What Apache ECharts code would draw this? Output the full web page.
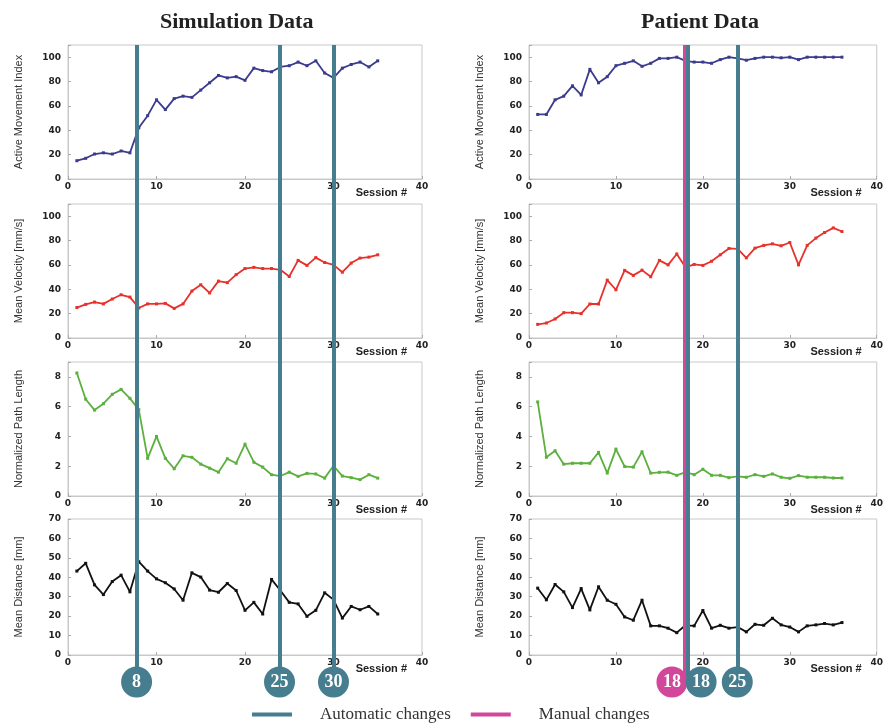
<!DOCTYPE html>
<html>
<head>
<meta charset="utf-8">
<script src="https://cdn.jsdelivr.net/npm/echarts@6/dist/echarts.min.js"></script>
<style>
  html, body { margin: 0; padding: 0; background: #fff; }
  #main { width: 886px; height: 724px; }
</style>
</head>
<body>
<div id="main"></div>
<script>
// 会话数据 (Session 1..n)
var amiSim = [15, 17, 20.5, 21.5, 20.5, 23, 21.5, 42, 52, 65, 57, 66, 68, 67, 73, 79, 85, 83, 84, 81,
  91, 89, 88, 92, 93, 96, 93, 97, 87, 83, 91, 94, 96, 92, 97];
var amiPat = [53, 53, 65, 68, 76.5, 69, 90, 79, 84, 93, 95, 97, 92.5, 95, 99, 99, 100, 97, 96, 96,
  95, 98, 100, 99, 97.5, 99, 100, 100, 99.5, 100, 98, 100, 100, 100, 100, 100];
var velSim = [25, 27.6, 29.5, 28, 32, 35.5, 33.6, 24.6, 28, 28, 28.4, 24.3, 28, 38.5, 43.7, 37, 46.7, 45.4, 52, 57,
  58, 57, 57, 56, 50.5, 63.7, 59.6, 66, 62, 60, 54, 61.5, 65.6, 66.4, 68.3];
var velPat = [11.2, 12.3, 15.6, 20.8, 20.8, 20, 27.9, 27.9, 47.5, 39.6, 55.5, 51.4, 55.7, 50.3, 63.7, 60, 69, 58, 60.4, 59.6,
  63, 68.3, 73.5, 73.2, 65.8, 73.8, 76, 77.3, 75.7, 78.4, 60, 76, 82, 86.6, 90.4, 87.4];
var pathSim = [8.26, 6.5, 5.77, 6.2, 6.83, 7.16, 6.56, 5.8, 2.53, 4.0, 2.53, 1.83, 2.7, 2.6, 2.14, 1.87, 1.6, 2.5, 2.2, 3.48,
  2.27, 1.94, 1.43, 1.34, 1.6, 1.32, 1.52, 1.48, 1.2, 2.03, 1.34, 1.23, 1.1, 1.43, 1.2];
var pathPat = [6.32, 2.6, 3.04, 2.14, 2.2, 2.2, 2.2, 2.93, 1.54, 3.15, 1.98, 1.94, 2.97, 1.54, 1.59, 1.6, 1.39, 1.6, 1.43, 1.8,
  1.39, 1.39, 1.23, 1.32, 1.26, 1.43, 1.32, 1.48, 1.26, 1.19, 1.37, 1.26, 1.26, 1.26, 1.21, 1.21];
var distSim = [43.2, 47.2, 36.1, 31.1, 37.8, 41.1, 32.5, 48, 43.2, 39.2, 37.2, 34, 28.2, 42.3, 40.1, 33.4, 32.3, 36.8, 33.2, 23,
  27.1, 21.1, 38.9, 33.2, 27.1, 26.3, 19.9, 23, 32, 28.5, 19, 25, 23.3, 25, 21.1];
var distPat = [34.4, 28.4, 36.3, 32.5, 24.4, 34.2, 23.2, 35.1, 28.2, 26.1, 19.6, 17.9, 28.2, 15, 15, 13.8, 11.5, 15.3, 15, 22.9,
  13.8, 15.3, 13.8, 14.4, 11.9, 15.8, 15.3, 18.9, 15.5, 14.4, 11.9, 15, 15.5, 16.2, 15.5, 16.7];

// 参数变化 (位置 / 标签)
var autoLeftPos = [7.75, 23.9, 30];
var autoLeftLabels = ['8', '25', '30'];
var manualRightPos = [17.6];
var autoRightPos = [18.0, 23.6];
var circleRightPos = [16.2, 19.5, 23.6];
var circleRightLabels = ['18', '18', '25'];

var yNames = ['Active Movement Index', 'Mean Velocity [mm/s]', 'Normalized Path Length', 'Mean Distance [mm]'];
var yMax = [110, 110, 9, 70];
var yInterval = [20, 20, 2, 10];
var lineColors = ['#3b3b8e', '#e8312b', '#5cb03e', '#111111'];
var seriesData = [[amiSim, amiPat], [velSim, velPat], [pathSim, pathPat], [distSim, distPat]];

var TEAL = '#477e8f';
var MAGENTA = '#d2479a';

var cols = [{ left: 68, width: 354 }, { left: 529, width: 353 }];
var rows = [{ top: 45, height: 134 }, { top: 204, height: 134 }, { top: 362, height: 134 }, { top: 519, height: 136 }];

var grids = [], xAxes = [], yAxes = [], series = [];

function toPoints(arr) {
  var res = [];
  for (var i = 0; i < arr.length; i++) {
    res.push([i + 1, arr[i]]);
  }
  return res;
}

var idx = 0;
for (var r = 0; r < 4; r++) {
  for (var c = 0; c < 2; c++) {
    grids.push({
      left: cols[c].left, width: cols[c].width, top: rows[r].top, height: rows[r].height,
      show: true, borderColor: '#c8c8c8', borderWidth: 1, backgroundColor: '#fff'
    });
    xAxes.push({
      type: 'value', gridIndex: idx, min: 0, max: 40, interval: 10,
      name: 'Session #', nameLocation: 'end', nameGap: -15,
      nameTextStyle: {
        align: 'right', verticalAlign: 'top', padding: [8, 0, 0, 0],
        fontFamily: 'Liberation Sans', fontWeight: 'bold', fontSize: 11, color: '#222'
      },
      axisLine: { show: true, lineStyle: { color: '#c8c8c8' } },
      axisTick: { show: true, inside: true, length: 3, lineStyle: { color: '#aaa' } },
      axisLabel: { margin: 3, fontFamily: 'DejaVu Sans', fontWeight: 'bold', fontSize: 9, color: '#222' },
      splitLine: { show: false }
    });
    (function (iv) {
      yAxes.push({
        type: 'value', gridIndex: idx, min: 0, max: yMax[r], interval: iv,
        name: yNames[r], nameLocation: 'middle', nameGap: 44,
        nameTextStyle: { fontFamily: 'Liberation Sans', fontSize: 11, color: '#333' },
        axisLine: { show: true, lineStyle: { color: '#c8c8c8' } },
        axisTick: { show: true, inside: true, length: 3, lineStyle: { color: '#aaa' } },
        axisLabel: {
          margin: 7, fontFamily: 'DejaVu Sans', fontWeight: 'bold', fontSize: 9, color: '#222',
          formatter: function (v) { return v % iv === 0 ? String(v) : ''; }
        },
        splitLine: { show: false }
      });
    })(yInterval[r]);
    series.push({
      type: 'line', xAxisIndex: idx, yAxisIndex: idx,
      data: toPoints(seriesData[r][c]),
      symbol: 'rect', symbolSize: 3, showSymbol: true,
      lineStyle: { color: lineColors[r], width: 1.8 },
      itemStyle: { color: lineColors[r] },
      z: 2
    });
    idx++;
  }
}

// 覆盖层: 竖线与圆圈
for (var c2 = 0; c2 < 2; c2++) {
  grids.push({ left: cols[c2].left, width: cols[c2].width, top: 45, height: 637 });
  xAxes.push({ type: 'value', gridIndex: 8 + c2, min: 0, max: 40, show: false });
  yAxes.push({ type: 'value', gridIndex: 8 + c2, min: 0, max: 1, show: false });
}

function vLines(name, color, positions, axisIdx) {
  return {
    name: name, type: 'line', xAxisIndex: axisIdx, yAxisIndex: axisIdx, data: [],
    color: color, z: 5,
    markLine: {
      silent: true, symbol: 'none', label: { show: false },
      lineStyle: { color: color, width: 4, type: 'solid', opacity: 1 },
      data: positions.map(function (p) { return { xAxis: p }; })
    }
  };
}

series.push(vLines('Automatic changes', TEAL, autoLeftPos, 8));
series.push(vLines('Manual changes', MAGENTA, manualRightPos, 9));
series.push(vLines('Automatic changes', TEAL, autoRightPos, 9));

var circleLabel = {
  show: true, position: 'inside', formatter: '{b}',
  fontFamily: 'Liberation Serif', fontWeight: 'bold', fontSize: 18, color: '#fff'
};
series.push({
  type: 'scatter', xAxisIndex: 8, yAxisIndex: 8, symbolSize: 31, clip: false, z: 6,
  itemStyle: { color: TEAL, opacity: 1 }, label: circleLabel,
  data: autoLeftPos.map(function (p, i) { return { name: autoLeftLabels[i], value: [p, 0] }; })
});
series.push({
  type: 'scatter', xAxisIndex: 9, yAxisIndex: 9, symbolSize: 31, clip: false, z: 6,
  label: circleLabel,
  data: circleRightPos.map(function (p, i) {
    return { name: circleRightLabels[i], value: [p, 0], itemStyle: { color: i === 0 ? MAGENTA : TEAL, opacity: 1 } };
  })
});

var chart = echarts.init(document.getElementById('main'));
chart.setOption({
  backgroundColor: '#fff',
  animation: false,
  title: [
    { text: 'Simulation Data', left: 155, top: 6,
      textStyle: { fontFamily: 'Liberation Serif', fontWeight: 'bold', fontSize: 22, color: '#222' } },
    { text: 'Patient Data', left: 636, top: 6,
      textStyle: { fontFamily: 'Liberation Serif', fontWeight: 'bold', fontSize: 22, color: '#222' } }
  ],
  legend: {
    data: ['Automatic changes', 'Manual changes'],
    left: 252, top: 706, padding: 0, itemGap: 20,
    itemWidth: 40, itemHeight: 4, icon: 'rect',
    textStyle: { fontFamily: 'Liberation Serif', fontSize: 17, color: '#333', padding: [0, 0, 0, 23] }
  },
  grid: grids,
  xAxis: xAxes,
  yAxis: yAxes,
  series: series
});
</script>
</body>
</html>
